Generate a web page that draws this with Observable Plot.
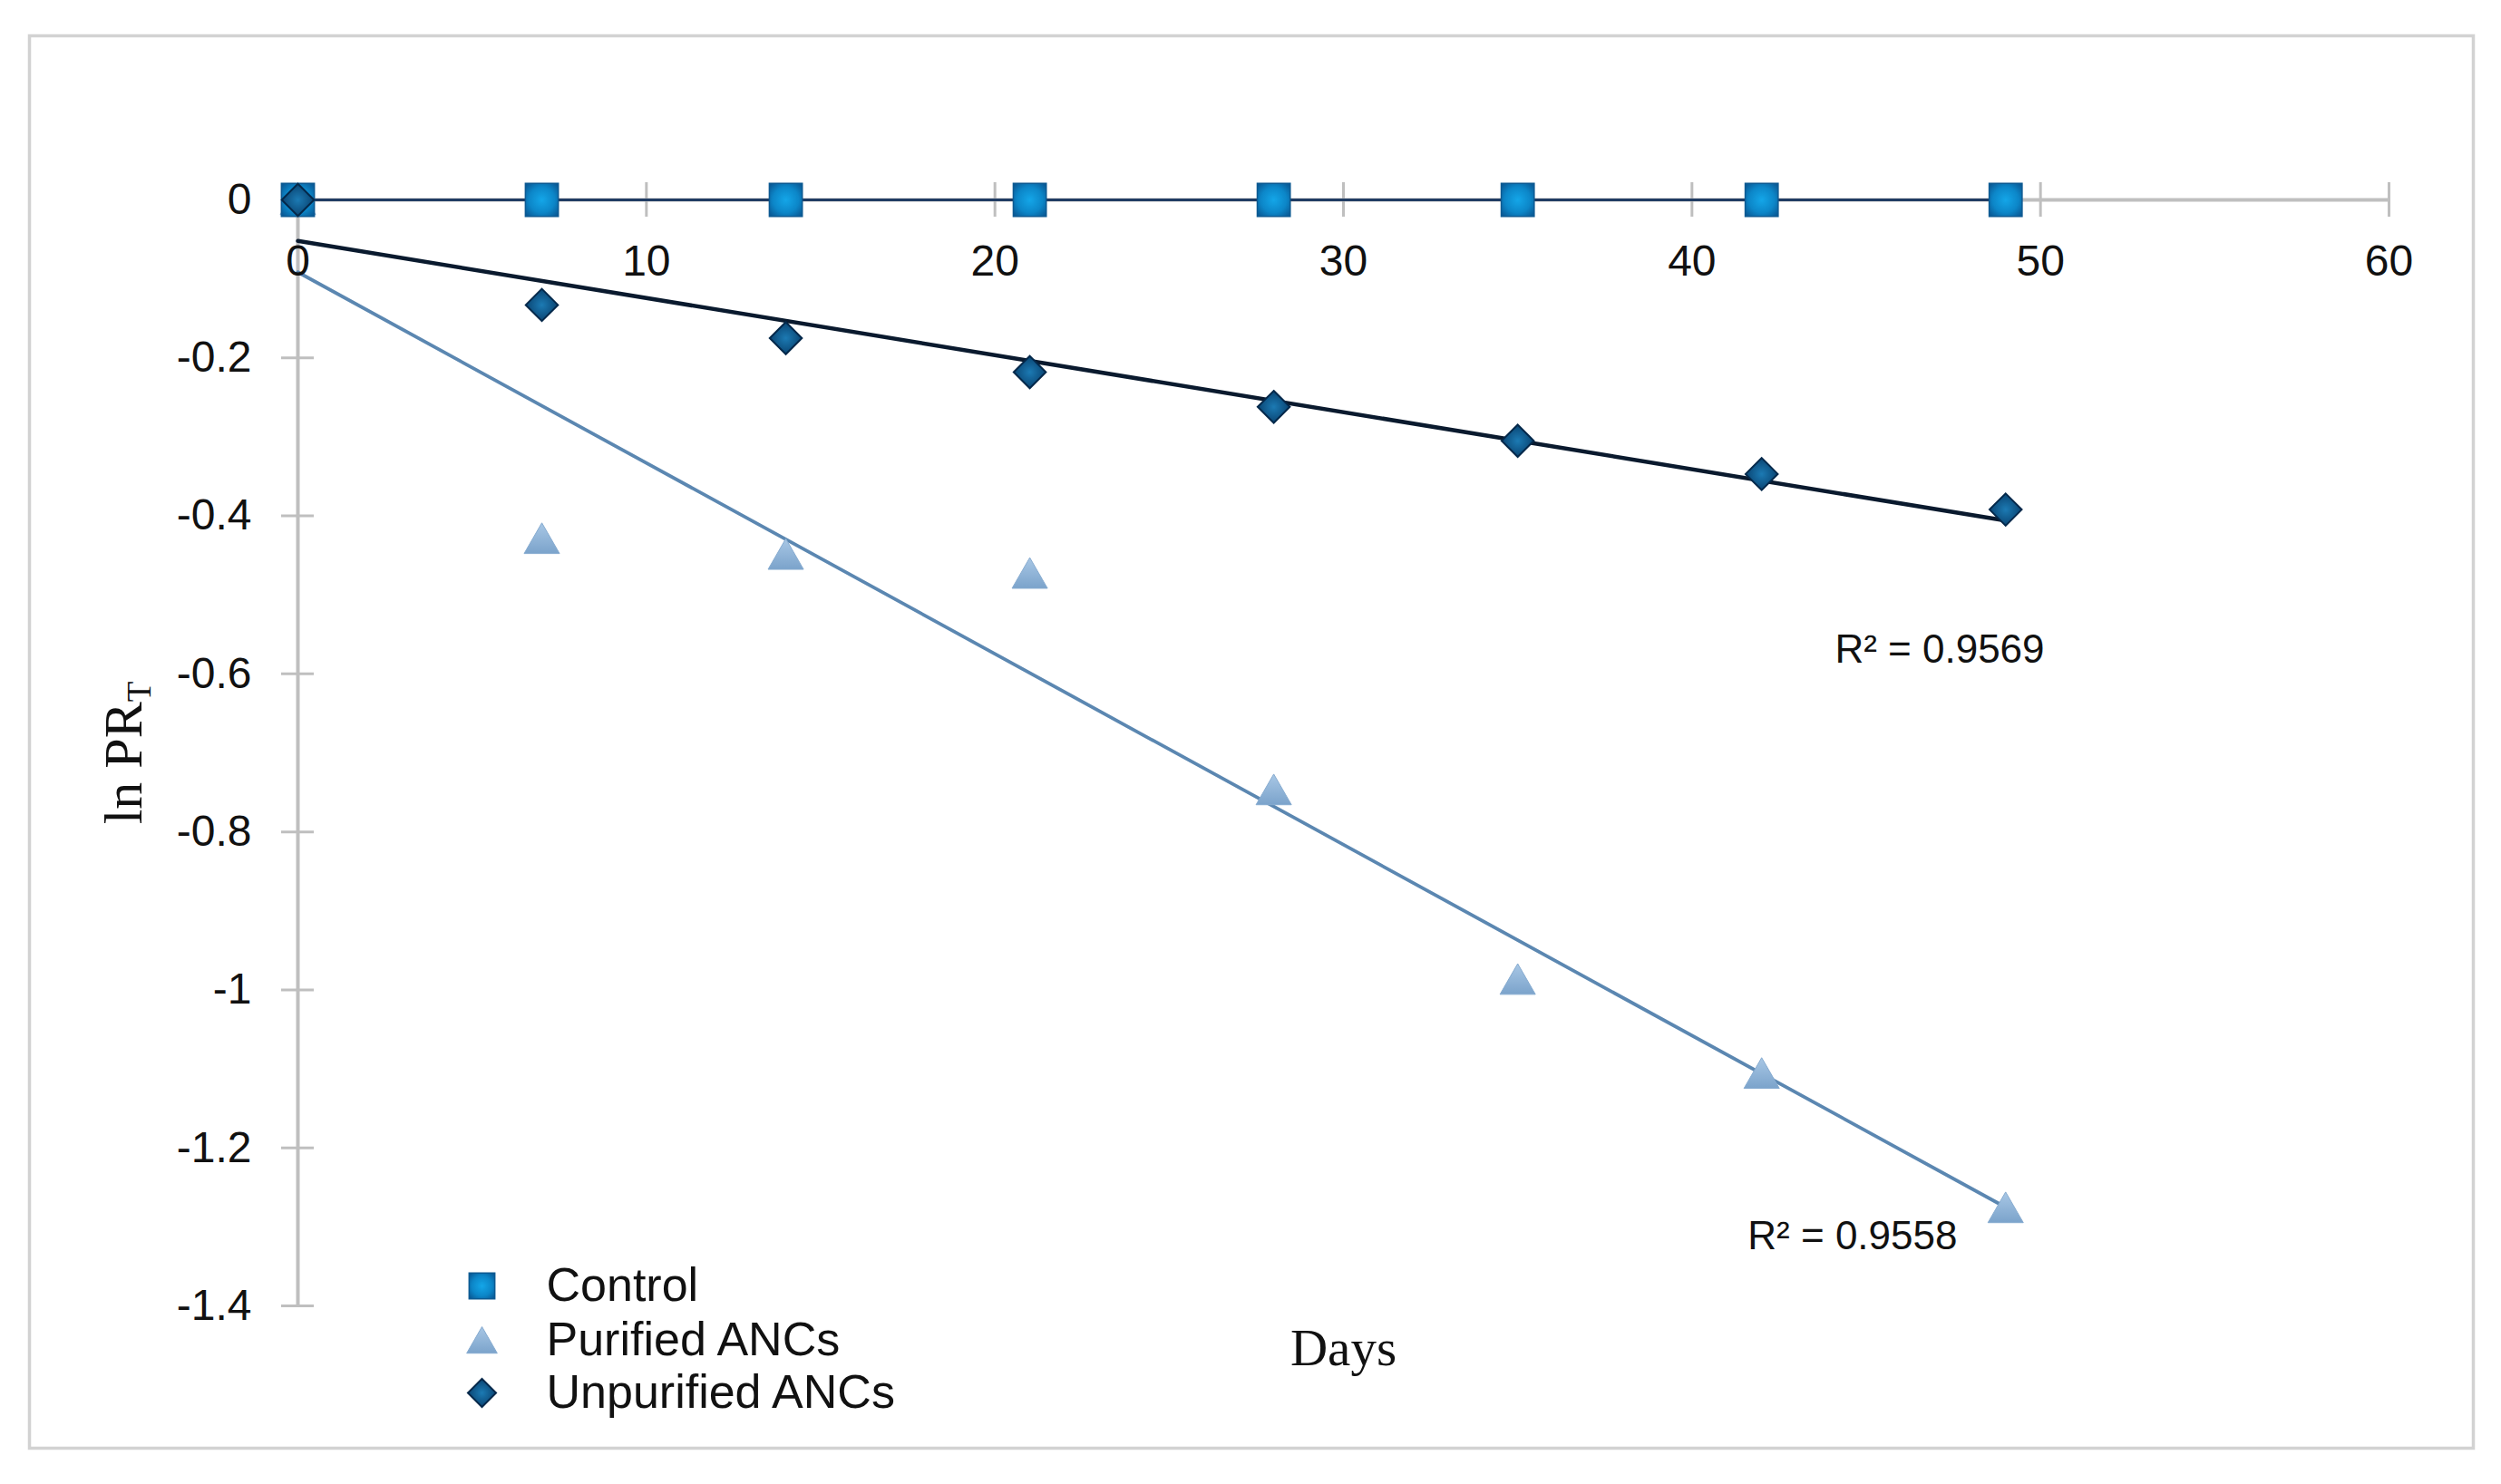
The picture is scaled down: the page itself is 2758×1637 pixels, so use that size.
<!DOCTYPE html>
<html>
<head>
<meta charset="utf-8">
<script src="https://cdn.jsdelivr.net/npm/d3@7"></script>
<script src="https://cdn.jsdelivr.net/npm/@observablehq/plot@0.6"></script>
<style>
  html, body { margin: 0; padding: 0; background: #fff; }
  #chart svg { display: block; }
</style>
</head>
<body>
<div id="chart"></div>
<script>
// ---- Data ----
const days = [0, 7, 14, 21, 28, 35, 42, 49];
const control = [0, 0, 0, 0, 0, 0, 0, 0];
const purified = [0, -0.429, -0.449, -0.473, -0.747, -0.987, -1.106, -1.276];
const unpurified = [0, -0.133, -0.175, -0.218, -0.262, -0.305, -0.347, -0.392];
const seriesNames = ["Control", "Purified ANCs", "Unpurified ANCs"];
const xTicks = [0, 10, 20, 30, 40, 50, 60];
const yTicks = [0, -0.2, -0.4, -0.6, -0.8, -1, -1.2, -1.4];
const r2Text = ["R² = 0.9569", "R² = 0.9558"];
const r2Day = [44.1, 41.6];
const r2Value = [-0.586, -1.328];
const xLabel = "Days";
const yLabel = "ln PR";
const yLabelSub = "T";

// ---- Tables built from the arrays ----
const values = {"Control": control, "Purified ANCs": purified, "Unpurified ANCs": unpurified};
const rows = seriesNames.flatMap(s => days.map((d, i) => ({series: s, day: d, value: values[s][i]})));
const bySeries = s => rows.filter(r => r.series === s);
const r2Rows = r2Text.map((t, i) => ({text: t, day: r2Day[i], value: r2Value[i]}));

// ---- Styles ----
const style = {
  "Control": {symbol: "square", fill: "url(#gSq)", stroke: "#0d5a92", strokeWidth: 1.5, r: 20.5, lr: 16, dy: 0},
  "Purified ANCs": {symbol: "triangle", fill: "url(#gTri)", stroke: "#86abd0", strokeWidth: 1, r: 14.5, lr: 12.5, dy: 5},
  "Unpurified ANCs": {symbol: "diamond2", fill: "url(#gDia)", stroke: "#04284a", strokeWidth: 2, r: 16, lr: 14, dy: 0}
};
const legendDy = [-22, 38, 96];
const sans = "Liberation Sans, Arial, Helvetica, sans-serif";
const serif = "Liberation Serif, Times New Roman, serif";
const gray = "#bfbfbf";

const defsMark = () => {
  const ns = "http://www.w3.org/2000/svg";
  const defs = document.createElementNS(ns, "defs");
  defs.innerHTML = `
    <radialGradient id="gSq" cx="50%" cy="50%" r="65%">
      <stop offset="0%" stop-color="#14a6e8"/>
      <stop offset="60%" stop-color="#0c86c8"/>
      <stop offset="100%" stop-color="#0a5a96"/>
    </radialGradient>
    <linearGradient id="gTri" x1="0" y1="0" x2="0" y2="1">
      <stop offset="0%" stop-color="#a8c7e5"/>
      <stop offset="100%" stop-color="#7ba3cb"/>
    </linearGradient>
    <radialGradient id="gDia" cx="50%" cy="50%" r="60%">
      <stop offset="0%" stop-color="#1c7ab3"/>
      <stop offset="100%" stop-color="#063a66"/>
    </radialGradient>`;
  return defs;
};

const dotMark = (s, data) => Plot.dot(data, {
  x: "day", y: "value", symbol: () => style[s].symbol, r: style[s].r,
  fill: style[s].fill, stroke: style[s].stroke, strokeWidth: style[s].strokeWidth, dy: style[s].dy
});

const legendMarks = seriesNames.flatMap((s, i) => [
  Plot.dot([s], {
    frameAnchor: "bottom-left", dx: 203, dy: legendDy[i] + style[s].dy * 0.9,
    symbol: () => style[s].symbol, r: style[s].lr,
    fill: style[s].fill, stroke: style[s].stroke, strokeWidth: style[s].strokeWidth
  }),
  Plot.text([s], {
    frameAnchor: "bottom-left", dx: 274, dy: legendDy[i], text: d => d,
    textAnchor: "start", lineAnchor: "middle", fontSize: 52, fontFamily: sans, fill: "#111"
  })
]);

const chart = Plot.plot({
  width: 2758,
  height: 1637,
  marginLeft: 328,
  marginRight: 124,
  marginTop: 220,
  marginBottom: 197,
  style: {background: "#fff", fontFamily: sans, overflow: "visible"},
  x: {domain: [0, 60], axis: null},
  y: {domain: [-1.4, 0], axis: null},
  marks: [
    defsMark,
    // outer chart-area border
    Plot.frame({stroke: "#d2d2d2", strokeWidth: 3.5, insetLeft: -296, insetTop: -181, insetRight: -93, insetBottom: -157}),
    // axes lines
    Plot.ruleY([0], {stroke: gray, strokeWidth: 4}),
    Plot.ruleX([0], {stroke: gray, strokeWidth: 4}),
    // tick marks crossing the axes
    Plot.ruleX(xTicks.filter(t => t > 0), {x: d => d, y1: () => 0, y2: () => 0, insetTop: -19, insetBottom: -19, stroke: gray, strokeWidth: 3}),
    Plot.ruleY(yTicks.filter(t => t < 0), {y: d => d, x1: () => 0, x2: () => 0, insetLeft: -18, insetRight: -18, stroke: gray, strokeWidth: 3}),
    // control series line
    Plot.line(bySeries("Control"), {x: "day", y: "value", stroke: "#203c63", strokeWidth: 3}),
    // linear trendlines
    Plot.linearRegressionY(bySeries("Purified ANCs"), {x: "day", y: "value", stroke: "#5b87b1", strokeWidth: 3.8, ci: 0}),
    Plot.linearRegressionY(bySeries("Unpurified ANCs"), {x: "day", y: "value", stroke: "#0a1a2e", strokeWidth: 4.5, ci: 0}),
    // markers
    dotMark("Purified ANCs", bySeries("Purified ANCs")),
    dotMark("Control", bySeries("Control")),
    dotMark("Unpurified ANCs", bySeries("Unpurified ANCs")),
    // tick labels
    Plot.text(xTicks, {x: d => d, y: () => 0, dy: 68, text: d => String(d), fontSize: 48, fontFamily: sans, fill: "#111", lineAnchor: "middle"}),
    Plot.text(yTicks, {x: () => 0, y: d => d, dx: -51, text: d => String(d), textAnchor: "end", fontSize: 48, fontFamily: sans, fill: "#111", lineAnchor: "middle"}),
    // R² annotations
    Plot.text(r2Rows, {x: "day", y: "value", text: "text", textAnchor: "start", lineAnchor: "bottom", fontSize: 44, fontFamily: sans, fill: "#111"}),
    // axis titles
    Plot.text([xLabel], {frameAnchor: "bottom", dy: 65, text: d => d, textAnchor: "middle", lineAnchor: "bottom", fontSize: 57, fontFamily: serif, fill: "#111"}),
    Plot.text([yLabel], {frameAnchor: "left", dx: -173, text: d => d, rotate: -90, textAnchor: "middle", lineAnchor: "bottom", fontSize: 60, fontFamily: serif, fill: "#111"}),
    ...legendMarks
  ]
});

// subscript for the y-axis title
chart.querySelectorAll("text").forEach(t => {
  if (t.textContent === yLabel) {
    const ts = document.createElementNS("http://www.w3.org/2000/svg", "tspan");
    ts.setAttribute("dy", "10");
    ts.setAttribute("font-size", "37");
    ts.textContent = yLabelSub;
    t.appendChild(ts);
  }
});

document.getElementById("chart").appendChild(chart);
</script>
</body>
</html>
